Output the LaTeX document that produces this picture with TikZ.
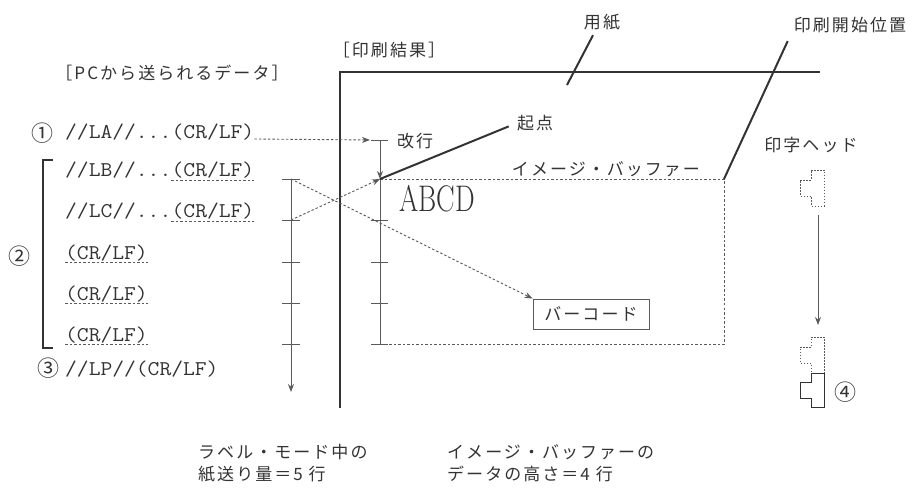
\documentclass[tikz,border=0pt]{standalone}
\usepackage{fontspec}
\usepackage{graphicx}
\newfontfamily\jp[LetterSpace=12]{Noto Sans CJK JP}
\usetikzlibrary{arrows.meta}
\definecolor{ink}{HTML}{333333}
\definecolor{pale}{HTML}{5A5A5A}
\newcommand{\cw}[1]{\scalebox{1.09}[1]{\ttfamily\fontsize{21}{21}\selectfont #1}}
\tikzset{
  lbl/.style={font=\jp\fontsize{17}{22}\selectfont, text=ink, inner sep=0pt},
  num/.style={font=\jp\fontsize{22}{22}\selectfont, text=ink, inner sep=0pt},
  code/.style={text=ink, inner sep=0pt, anchor=base west},
  heavy/.style={draw=ink, line width=2.4pt},
  fine/.style={draw=pale, line width=0.9pt},
  dashline/.style={draw=pale, line width=0.9pt, dash pattern=on 2.5pt off 2pt},
  arr/.style={-{Stealth[length=8pt,width=6pt]}},
}
\begin{document}
\begin{tikzpicture}[x=1pt,y=-1pt]
  \useasboundingbox (0,0) rectangle (913,489);

  \node[lbl] (pc) at (172,73) {［PCから送られるデータ］};
  \node[num] (n1) at (42,133) {①};
  \node[num] (n2) at (20,256) {②};
  \node[num] (n3) at (48,368) {③};
  \node[code] (la) at (65,139) {\cw{//LA//...}};
  \node[code] (lacr) at (la.base east) {\cw{(CR/LF)}};
  \node[code] (lb) at (65,177) {\cw{//LB//...}};
  \node[code] (lbcr) at (lb.base east) {\cw{(CR/LF)}};
  \node[code] (lc) at (65,218) {\cw{//LC//...}};
  \node[code] (lccr) at (lc.base east) {\cw{(CR/LF)}};
  \node[code] (cr3) at (65,259) {\cw{(CR/LF)}};
  \node[code] (cr4) at (65,300) {\cw{(CR/LF)}};
  \node[code] (cr5) at (65,341) {\cw{(CR/LF)}};
  \node[code] (lp) at (65,375) {\cw{//LP//(CR/LF)}};
  \foreach \n in {lbcr,lccr,cr3,cr4,cr5}
    \draw[dashline] ([yshift=-3pt]\n.base west) -- ([yshift=-3pt]\n.base east);
  \draw[heavy, line width=2.2pt] (53,160) -- (43,160) -- (43,348) -- (53,348);

  \coordinate (f1) at (291,179);
  \coordinate (f2) at (291,220);
  \coordinate (fend) at (291,392);
  \draw[fine,arr] (f1) -- (fend);
  \foreach \y in {179,220,262,303,344}
    \draw[fine] (282,\y) -- (300,\y);

  \coordinate (pbl) at (340,408);
  \coordinate (ptl) at (340,72);
  \coordinate (ptr) at (820,72);
  \draw[heavy] (pbl) -- (ptl) -- (ptr);
  \node[lbl] (res) at (389,50) {［印刷結果］};

  \coordinate (lf) at (380,140);
  \coordinate (org) at (380,179);
  \coordinate (bne) at (724,179);
  \coordinate (bse) at (724,344);
  \coordinate (bsw) at (380,344);
  \draw[dashline] (org) -- (bne) -- (bse) -- (bsw);
  \draw[fine] (org) -- (bsw);
  \foreach \y in {220,262,303,344}
    \draw[fine] (371,\y) -- (388,\y);
  \draw[fine] ([xshift=-9pt]lf) -- ([xshift=8pt]lf);
  \draw[fine,arr] (lf) -- (org);
  \draw[dashline,arr] (lacr.base east) -- ([xshift=-10pt]lf);

  \node[lbl, anchor=west] (kai) at (397,141) {改行};
  \node[font=\fontsize{37}{37}\selectfont, text=ink, inner sep=0pt] (abcd) at (437,199) {\scalebox{0.75}[1]{ABCD}};
  \node[lbl] (ibuf) at (606,169) {イメージ・バッファー};
  \node[lbl, draw=pale, line width=0.9pt, minimum width=116pt, minimum height=30pt] (bar) at (591,314) {バーコード};
  \node[lbl, anchor=west] (kiten) at (517,123) {起点};
  \draw[heavy, line width=2pt, shorten >=9pt] (org) -- (kiten.west);
  \draw[dashline,arr] (f1) -- (bar.north west);
  \draw[dashline,arr] (f2) -- (org);

  \node[lbl] (yoshi) at (602,22) {用紙};
  \coordinate (pp) at (567,85);
  \draw[heavy, line width=2pt] (pp) -- ([xshift=-9pt,yshift=-5pt]yoshi.south);
  \node[lbl] (start) at (850,25) {印刷開始位置};
  \draw[heavy, line width=2pt] (bne) -- ([xshift=-6pt,yshift=-8pt]start.south west);

  \node[lbl] (head) at (811,145) {印字ヘッド};
  \coordinate (h1) at (818,215);
  \coordinate (h2) at (818,325);
  \draw[fine,arr] (h1) -- (h2);
  \foreach \t in {170,337}
    \draw[pale, line width=0.9pt, dash pattern=on 1.5pt off 1.5pt] (811,\t) -- (824,\t) -- (824,\t+36) -- (811,\t+36) -- (811,\t+26) -- (800,\t+26) -- (800,\t+10) -- (811,\t+10) -- cycle;
  \draw[ink, line width=1pt] (811,373) -- (824,373) -- (824,407) -- (811,407) -- (811,398) -- (800,398) -- (800,382) -- (811,382) -- cycle;
  \node[num] (n4) at (845,392) {④};

  \node[lbl, anchor=north west, align=left] (feed) at (198,444) {ラベル・モード中の\\紙送り量＝5 行};
  \node[lbl, anchor=north west, align=left] (bufh) at (447,444) {イメージ・バッファーの\\データの高さ＝4 行};
\end{tikzpicture}
\end{document}
